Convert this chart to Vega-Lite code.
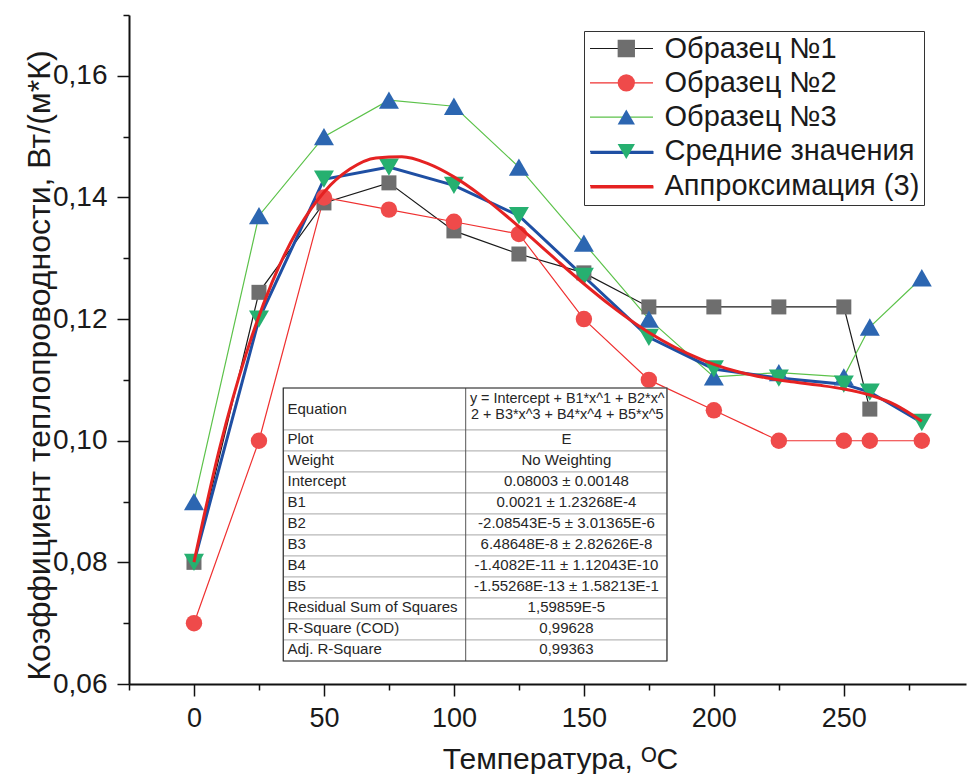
{
  "$schema": "https://vega.github.io/schema/vega-lite/v6.json",
  "autosize": {"type": "none"},
  "padding": {"left": 129, "top": 15, "right": 1, "bottom": 90},
  "width": 837,
  "height": 669,
  "config": {
    "view": {"stroke": null},
    "font": "Liberation Sans",
    "axis": {"grid": false},
    "legend": {"labelFont": "Liberation Sans"}
  },
  "datasets": {
    "measurements": [
      {"series": "Образец №1", "t": 0, "k": 0.080},
      {"series": "Образец №1", "t": 25, "k": 0.1244},
      {"series": "Образец №1", "t": 50, "k": 0.1391},
      {"series": "Образец №1", "t": 75, "k": 0.1424},
      {"series": "Образец №1", "t": 100, "k": 0.1345},
      {"series": "Образец №1", "t": 125, "k": 0.1307},
      {"series": "Образец №1", "t": 150, "k": 0.1276},
      {"series": "Образец №1", "t": 175, "k": 0.122},
      {"series": "Образец №1", "t": 200, "k": 0.122},
      {"series": "Образец №1", "t": 225, "k": 0.122},
      {"series": "Образец №1", "t": 250, "k": 0.122},
      {"series": "Образец №1", "t": 260, "k": 0.1052},
      {"series": "Образец №2", "t": 0, "k": 0.070},
      {"series": "Образец №2", "t": 25, "k": 0.100},
      {"series": "Образец №2", "t": 50, "k": 0.140},
      {"series": "Образец №2", "t": 75, "k": 0.138},
      {"series": "Образец №2", "t": 100, "k": 0.136},
      {"series": "Образец №2", "t": 125, "k": 0.134},
      {"series": "Образец №2", "t": 150, "k": 0.120},
      {"series": "Образец №2", "t": 175, "k": 0.110},
      {"series": "Образец №2", "t": 200, "k": 0.105},
      {"series": "Образец №2", "t": 225, "k": 0.100},
      {"series": "Образец №2", "t": 250, "k": 0.100},
      {"series": "Образец №2", "t": 260, "k": 0.100},
      {"series": "Образец №2", "t": 280, "k": 0.100},
      {"series": "Образец №3", "t": 0, "k": 0.090},
      {"series": "Образец №3", "t": 25, "k": 0.137},
      {"series": "Образец №3", "t": 50, "k": 0.150},
      {"series": "Образец №3", "t": 75, "k": 0.156},
      {"series": "Образец №3", "t": 100, "k": 0.155},
      {"series": "Образец №3", "t": 125, "k": 0.145},
      {"series": "Образец №3", "t": 150, "k": 0.1325},
      {"series": "Образец №3", "t": 175, "k": 0.120},
      {"series": "Образец №3", "t": 200, "k": 0.1105},
      {"series": "Образец №3", "t": 225, "k": 0.1112},
      {"series": "Образец №3", "t": 250, "k": 0.1105},
      {"series": "Образец №3", "t": 260, "k": 0.1187},
      {"series": "Образец №3", "t": 280, "k": 0.1268},
      {"series": "Средние значения", "t": 0, "k": 0.080},
      {"series": "Средние значения", "t": 25, "k": 0.120},
      {"series": "Средние значения", "t": 50, "k": 0.143},
      {"series": "Средние значения", "t": 75, "k": 0.145},
      {"series": "Средние значения", "t": 100, "k": 0.142},
      {"series": "Средние значения", "t": 125, "k": 0.137},
      {"series": "Средние значения", "t": 150, "k": 0.127},
      {"series": "Средние значения", "t": 175, "k": 0.117},
      {"series": "Средние значения", "t": 200, "k": 0.1118},
      {"series": "Средние значения", "t": 225, "k": 0.1103},
      {"series": "Средние значения", "t": 250, "k": 0.1093},
      {"series": "Средние значения", "t": 260, "k": 0.108},
      {"series": "Средние значения", "t": 280, "k": 0.103}
    ],
    "fit": [
      {"series": "Аппроксимация (3)", "t": 0, "k": 0.08003},
      {"series": "Аппроксимация (3)", "t": 10, "k": 0.09901},
      {"series": "Аппроксимация (3)", "t": 20, "k": 0.11420},
      {"series": "Аппроксимация (3)", "t": 30, "k": 0.12600},
      {"series": "Аппроксимация (3)", "t": 40, "k": 0.13476},
      {"series": "Аппроксимация (3)", "t": 50, "k": 0.14087},
      {"series": "Аппроксимация (3)", "t": 60, "k": 0.14466},
      {"series": "Аппроксимация (3)", "t": 70, "k": 0.14649},
      {"series": "Аппроксимация (3)", "t": 80, "k": 0.14669},
      {"series": "Аппроксимация (3)", "t": 90, "k": 0.14556},
      {"series": "Аппроксимация (3)", "t": 100, "k": 0.14339},
      {"series": "Аппроксимация (3)", "t": 110, "k": 0.14047},
      {"series": "Аппроксимация (3)", "t": 120, "k": 0.13703},
      {"series": "Аппроксимация (3)", "t": 130, "k": 0.13331},
      {"series": "Аппроксимация (3)", "t": 140, "k": 0.12951},
      {"series": "Аппроксимация (3)", "t": 150, "k": 0.12581},
      {"series": "Аппроксимация (3)", "t": 160, "k": 0.12234},
      {"series": "Аппроксимация (3)", "t": 170, "k": 0.11921},
      {"series": "Аппроксимация (3)", "t": 180, "k": 0.11652},
      {"series": "Аппроксимация (3)", "t": 190, "k": 0.11431},
      {"series": "Аппроксимация (3)", "t": 200, "k": 0.11256},
      {"series": "Аппроксимация (3)", "t": 210, "k": 0.11127},
      {"series": "Аппроксимация (3)", "t": 220, "k": 0.11036},
      {"series": "Аппроксимация (3)", "t": 230, "k": 0.10970},
      {"series": "Аппроксимация (3)", "t": 240, "k": 0.10915},
      {"series": "Аппроксимация (3)", "t": 250, "k": 0.10851},
      {"series": "Аппроксимация (3)", "t": 260, "k": 0.10751},
      {"series": "Аппроксимация (3)", "t": 270, "k": 0.10586},
      {"series": "Аппроксимация (3)", "t": 280, "k": 0.10320}
    ],
    "table": [
      {"param": "Equation", "value": "y = Intercept + B1*x^1 + B2*x^\n2 + B3*x^3 + B4*x^4 + B5*x^5", "r0": 0, "r1": 2},
      {"param": "Plot", "value": "E", "r0": 2, "r1": 3},
      {"param": "Weight", "value": "No Weighting", "r0": 3, "r1": 4},
      {"param": "Intercept", "value": "0.08003 ± 0.00148", "r0": 4, "r1": 5},
      {"param": "B1", "value": "0.0021 ± 1.23268E-4", "r0": 5, "r1": 6},
      {"param": "B2", "value": "-2.08543E-5 ± 3.01365E-6", "r0": 6, "r1": 7},
      {"param": "B3", "value": "6.48648E-8 ± 2.82626E-8", "r0": 7, "r1": 8},
      {"param": "B4", "value": "-1.4082E-11 ± 1.12043E-10", "r0": 8, "r1": 9},
      {"param": "B5", "value": "-1.55268E-13 ± 1.58213E-1", "r0": 9, "r1": 10},
      {"param": "Residual Sum of Squares", "value": "1,59859E-5", "r0": 10, "r1": 11},
      {"param": "R-Square (COD)", "value": "0,99628", "r0": 11, "r1": 12},
      {"param": "Adj. R-Square", "value": "0,99363", "r0": 12, "r1": 13}
    ]
  },
  "resolve": {
    "scale": {"x": "independent", "y": "independent"},
    "axis": {"x": "independent", "y": "independent"}
  },
  "layer": [
    {
      "layer": [
        {
          "data": {"name": "measurements"},
          "transform": [{"filter": {"field": "series", "oneOf": ["Образец №1", "Образец №2", "Образец №3"]}}],
          "mark": {"type": "line", "strokeWidth": 1.2},
          "encoding": {
            "x": {
              "field": "t", "type": "quantitative",
              "scale": {"domain": [-25, 297], "nice": false, "zero": false},
              "axis": {
                "orient": "bottom",
                "title": "Температура, ᴼC",
                "values": [0, 50, 100, 150, 200, 250],
                "tickSize": 12, "tickWidth": 1.5, "tickColor": "#111",
                "domainColor": "#111", "domainWidth": 2,
                "labelFontSize": 27, "labelColor": "#1a1a1a", "labelPadding": 9,
                "labelFlush": false, "labelOverlap": false, "labelBound": false,
                "titleFontSize": 30, "titleFontWeight": "normal", "titleColor": "#1a1a1a",
                "titleBaseline": "alphabetic", "titleX": 431, "titleY": 84
              }
            },
            "y": {
              "field": "k", "type": "quantitative",
              "scale": {"domain": [0.06, 0.17], "nice": false, "zero": false},
              "axis": {
                "orient": "left",
                "title": "Коэффициент теплопроводности, Вт/(м*К)",
                "values": [0.06, 0.08, 0.10, 0.12, 0.14, 0.16],
                "labelExpr": "replace(format(datum.value, '.2f'), '.', ',')",
                "tickSize": 12, "tickWidth": 1.5, "tickColor": "#111",
                "domainColor": "#111", "domainWidth": 2,
                "labelFontSize": 28, "labelColor": "#1a1a1a", "labelPadding": 10,
                "labelFlush": false, "labelOverlap": false, "labelBound": false,
                "titleFontSize": 32, "titleFontWeight": "normal", "titleColor": "#1a1a1a",
                "titleAngle": 270, "titleBaseline": "alphabetic", "titleAlign": "center",
                "titleX": -80, "titleY": 350
              }
            },
            "stroke": {
              "field": "series", "type": "nominal",
              "scale": {
                "domain": ["Образец №1", "Образец №2", "Образец №3", "Средние значения", "Аппроксимация (3)"],
                "range": ["#1a1a1a", "#ef3030", "#5cc24a", "#1f4fa3", "#e52222"]
              },
              "legend": {
                "orient": "none", "legendX": 455, "legendY": 16, "title": null,
                "symbolType": "stroke", "symbolSize": 3969, "symbolStrokeWidth": 1.2, "clipHeight": 27,
                "rowPadding": 4.3, "padding": 4, "symbolOffset": 1, "labelOffset": 10.5,
                "labelFontSize": 29, "labelColor": "#1a1a1a", "labelLimit": 400,
                "labelBaseline": "middle", "strokeColor": "#333"
              }
            }
          }
        },
        {
          "data": {"name": "measurements"},
          "transform": [{"filter": {"field": "series", "equal": "Средние значения"}}],
          "mark": {"type": "line", "strokeWidth": 3},
          "encoding": {
            "x": {"field": "t", "type": "quantitative"},
            "y": {"field": "k", "type": "quantitative"},
            "color": {
              "field": "series", "type": "nominal",
              "scale": {
                "domain": ["Средние значения", "Аппроксимация (3)"],
                "range": ["#1f4fa3", "#e52222"]
              },
              "legend": {
                "orient": "none", "legendX": 455, "legendY": 120.1, "title": null,
                "symbolType": "stroke", "symbolSize": 3969, "symbolStrokeWidth": 3, "clipHeight": 27,
                "rowPadding": 4.3, "padding": 4, "symbolOffset": 1, "labelOffset": 10.5,
                "labelFontSize": 29, "labelOpacity": 0, "labelExpr": "' '", "labelLimit": 400,
                "labelBaseline": "middle"
              }
            }
          }
        },
        {
          "data": {"name": "measurements"},
          "transform": [{"filter": {"field": "series", "equal": "Образец №1"}}],
          "mark": {"type": "point", "filled": true, "size": 225, "opacity": 1, "strokeWidth": 0},
          "encoding": {
            "x": {"field": "t", "type": "quantitative"},
            "y": {"field": "k", "type": "quantitative"},
            "fill": {
              "field": "series", "type": "nominal",
              "scale": {
                "domain": ["Образец №1", "Образец №2", "Образец №3", "Средние значения"],
                "range": ["#6e6e6e", "#ef4a4a", "#2c66b1", "#26b070"]
              },
              "legend": {
                "orient": "none", "legendX": 455, "legendY": 16, "title": null,
                "symbolSize": 300, "clipHeight": 27, "rowPadding": 4.3, "padding": 4,
                "symbolOffset": 23.8, "labelOffset": 10.5, "labelFontSize": 29,
                "labelOpacity": 0, "labelExpr": "' '", "labelLimit": 400, "labelBaseline": "middle",
                "symbolStrokeWidth": 0, "symbolOpacity": 1
              }
            },
            "shape": {
              "field": "series", "type": "nominal",
              "scale": {
                "domain": ["Образец №1", "Образец №2", "Образец №3", "Средние значения"],
                "range": ["square", "circle", "triangle-up", "triangle-down"]
              }
            }
          }
        },
        {
          "data": {"name": "measurements"},
          "transform": [{"filter": {"field": "series", "equal": "Образец №2"}}],
          "mark": {"type": "point", "filled": true, "size": 270, "opacity": 1, "strokeWidth": 0},
          "encoding": {
            "x": {"field": "t", "type": "quantitative"},
            "y": {"field": "k", "type": "quantitative"},
            "fill": {"field": "series", "type": "nominal"},
            "shape": {"field": "series", "type": "nominal"}
          }
        },
        {
          "data": {"name": "measurements"},
          "transform": [{"filter": {"field": "series", "equal": "Образец №3"}}],
          "mark": {"type": "point", "filled": true, "size": 400, "opacity": 1, "strokeWidth": 0},
          "encoding": {
            "x": {"field": "t", "type": "quantitative"},
            "y": {"field": "k", "type": "quantitative"},
            "fill": {"field": "series", "type": "nominal"},
            "shape": {"field": "series", "type": "nominal"}
          }
        },
        {
          "data": {"name": "measurements"},
          "transform": [{"filter": {"field": "series", "equal": "Средние значения"}}],
          "mark": {"type": "point", "filled": true, "size": 400, "opacity": 1, "strokeWidth": 0},
          "encoding": {
            "x": {"field": "t", "type": "quantitative"},
            "y": {"field": "k", "type": "quantitative"},
            "fill": {"field": "series", "type": "nominal"},
            "shape": {"field": "series", "type": "nominal"}
          }
        }
      ]
    },
    {
      "layer": [
        {
          "data": {"name": "fit"},
          "mark": {"type": "line", "strokeWidth": 3, "interpolate": "monotone"},
          "encoding": {
            "x": {
              "field": "t", "type": "quantitative",
              "scale": {"domain": [-25, 297], "nice": false, "zero": false},
              "axis": {
                "orient": "bottom", "title": null, "values": [-25, 25, 75, 125, 175, 225, 275],
                "labels": false, "domain": false, "tickSize": 6, "tickWidth": 1.5, "tickColor": "#111"
              }
            },
            "y": {
              "field": "k", "type": "quantitative",
              "scale": {"domain": [0.06, 0.17], "nice": false, "zero": false},
              "axis": {
                "orient": "left", "title": null, "values": [0.07, 0.09, 0.11, 0.13, 0.15, 0.17],
                "labels": false, "domain": false, "tickSize": 6, "tickWidth": 1.5, "tickColor": "#111"
              }
            },
            "color": {"field": "series", "type": "nominal"}
          }
        }
      ]
    },
    {
      "layer": [
        {
          "data": {"name": "table"},
          "mark": {"type": "rect", "fill": "white", "stroke": "#b8b8b8", "strokeWidth": 1},
          "encoding": {
            "x": {"datum": 34.35, "type": "quantitative", "scale": {"domain": [-25, 297], "nice": false, "zero": false}, "axis": null},
            "x2": {"datum": 181.96},
            "y": {"field": "r0", "type": "quantitative", "scale": {"domain": [-17.762, 14.095], "reverse": true, "nice": false, "zero": false}, "axis": null},
            "y2": {"field": "r1"}
          }
        },
        {
          "data": {"name": "table"},
          "mark": {"type": "rule", "stroke": "#555", "strokeWidth": 1},
          "encoding": {
            "x": {"datum": 104.53, "type": "quantitative", "axis": null},
            "y": {"field": "r0", "type": "quantitative", "axis": null},
            "y2": {"field": "r1"}
          }
        },
        {
          "data": {"values": [{}]},
          "mark": {"type": "rect", "fill": "transparent", "stroke": "#333", "strokeWidth": 1.2},
          "encoding": {
            "x": {"datum": 34.35, "type": "quantitative", "axis": null},
            "x2": {"datum": 181.96},
            "y": {"datum": 0, "type": "quantitative", "axis": null},
            "y2": {"datum": 13}
          }
        },
        {
          "data": {"name": "table"},
          "transform": [{"filter": "datum.r1 - datum.r0 === 1"}],
          "mark": {"type": "text", "align": "left", "baseline": "top", "dy": 2, "fontSize": 15, "color": "#262626"},
          "encoding": {
            "x": {"datum": 35.98, "type": "quantitative", "axis": null},
            "y": {"field": "r0", "type": "quantitative", "axis": null},
            "text": {"field": "param"}
          }
        },
        {
          "data": {"name": "table"},
          "transform": [{"filter": "datum.r1 - datum.r0 === 2"}],
          "mark": {"type": "text", "align": "left", "baseline": "top", "dy": 14, "fontSize": 15, "color": "#262626"},
          "encoding": {
            "x": {"datum": 35.98, "type": "quantitative", "axis": null},
            "y": {"field": "r0", "type": "quantitative", "axis": null},
            "text": {"field": "param"}
          }
        },
        {
          "data": {"name": "table"},
          "transform": [{"filter": "datum.r1 - datum.r0 === 1"}],
          "mark": {"type": "text", "align": "center", "baseline": "top", "dy": 2, "fontSize": 15, "color": "#262626"},
          "encoding": {
            "x": {"datum": 143.27, "type": "quantitative", "axis": null},
            "y": {"field": "r0", "type": "quantitative", "axis": null},
            "text": {"field": "value"}
          }
        },
        {
          "data": {"name": "table"},
          "transform": [{"filter": "datum.r1 - datum.r0 === 2"}],
          "mark": {"type": "text", "align": "center", "baseline": "top", "dy": 4, "fontSize": 14.4, "lineBreak": "\n", "lineHeight": 16, "color": "#262626"},
          "encoding": {
            "x": {"datum": 143.6, "type": "quantitative", "axis": null},
            "y": {"field": "r0", "type": "quantitative", "axis": null},
            "text": {"field": "value"}
          }
        }
      ]
    }
  ]
}
